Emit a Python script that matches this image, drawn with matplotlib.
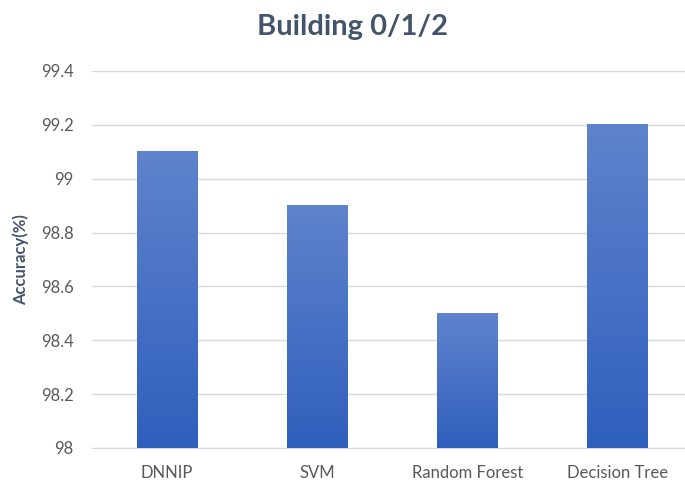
import numpy as np
import matplotlib.pyplot as plt
from matplotlib.colors import LinearSegmentedColormap

models = ['DNNIP', 'SVM', 'Random Forest', 'Decision Tree']
accuracy = [99.1, 98.9, 98.5, 99.2]
yticks = [98, 98.2, 98.4, 98.6, 98.8, 99, 99.2, 99.4]
ytick_labels = ['98', '98.2', '98.4', '98.6', '98.8', '99', '99.2', '99.4']

plt.rcParams['font.family'] = ['Lato', 'DejaVu Sans']

fig = plt.figure(figsize=(6.85, 4.84), dpi=100)
ax = fig.add_axes([0.134, 0.0744, 0.866, 0.779])

x = np.arange(len(models))
bars = ax.bar(x, [a - 98 for a in accuracy], bottom=98, width=0.4,
              color='none', zorder=3)

# vertical gradient inside each bar, lighter at the top
grad = LinearSegmentedColormap.from_list('bar', ['#2f5fbd', '#5f83cc'])
g = np.linspace(0, 1, 256).reshape(-1, 1)
for b in bars:
    x0, y0 = b.get_x(), b.get_y()
    ax.imshow(g, cmap=grad, origin='lower', aspect='auto', zorder=3,
              extent=[x0, x0 + b.get_width(), y0, y0 + b.get_height()])

ax.set_xlim(-0.5, 3.45)
ax.set_ylim(98, 99.4)
ax.set_yticks(yticks)
ax.set_yticklabels(ytick_labels)
ax.set_xticks(x)
ax.set_xticklabels(models)
ax.grid(axis='y', color='#d9d9d9', linewidth=1, zorder=0)
ax.tick_params(length=0, labelsize=12, labelcolor='#595959')
ax.tick_params(axis='y', pad=13)
ax.tick_params(axis='x', pad=12)
for s in ['top', 'right', 'left']:
    ax.spines[s].set_visible(False)
ax.spines['bottom'].set_color('#d9d9d9')

ax.set_ylabel('Accuracy(%)', fontsize=12, fontweight='bold', color='#44546a')
ax.yaxis.set_label_coords(-0.106, 0.5)
fig.text(0.514, 0.945, 'Building 0/1/2', ha='center', va='center',
         fontsize=21, fontweight='bold', color='#44546a')

fig.savefig('out.png', dpi=100)
